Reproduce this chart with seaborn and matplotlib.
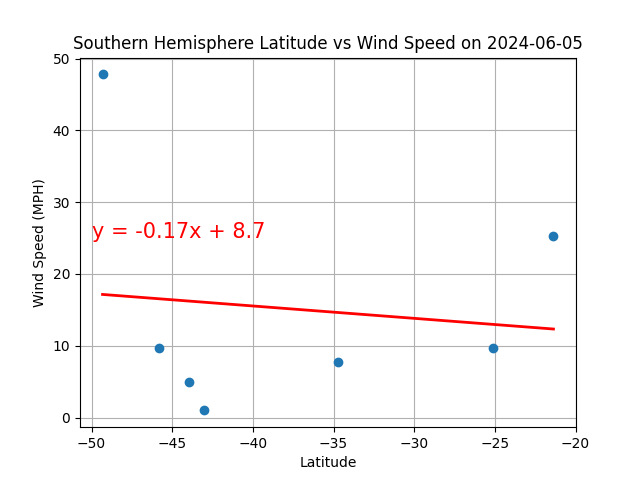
import numpy as np
import pandas as pd
import seaborn as sns
import matplotlib
matplotlib.use("Agg")
import matplotlib.pyplot as plt

# Southern hemisphere cities: latitude and wind speed
latitudes = [-49.32, -45.84, -43.98, -43.04, -34.72, -25.09, -21.37]
wind_speeds = [47.8, 9.65, 4.9, 1.0, 7.7, 9.65, 25.25]

df = pd.DataFrame({"Lat": latitudes, "Wind Speed": wind_speeds})

# linear regression
slope, intercept = np.polyfit(df["Lat"], df["Wind Speed"], 1)
df["fit"] = slope * df["Lat"] + intercept
line_eq = "y = " + str(round(slope, 2)) + "x + " + str(round(intercept, 1))

fig, ax = plt.subplots(figsize=(6.4, 4.8), dpi=100)
sns.scatterplot(data=df, x="Lat", y="Wind Speed", ax=ax, color="#1f77b4",
                s=36, linewidth=1, edgecolor="#1f77b4", zorder=3)
sns.lineplot(data=df, x="Lat", y="fit", ax=ax, color="red", linewidth=2,
             zorder=4)
ax.annotate(line_eq, (-50, 25), fontsize=15, color="red")

ax.set_title("Southern Hemisphere Latitude vs Wind Speed on 2024-06-05")
ax.set_xlabel("Latitude")
ax.set_ylabel("Wind Speed (MPH)")
ax.set_xticks([-50, -45, -40, -35, -30, -25, -20])
ax.grid(True)

plt.savefig("out.png")
